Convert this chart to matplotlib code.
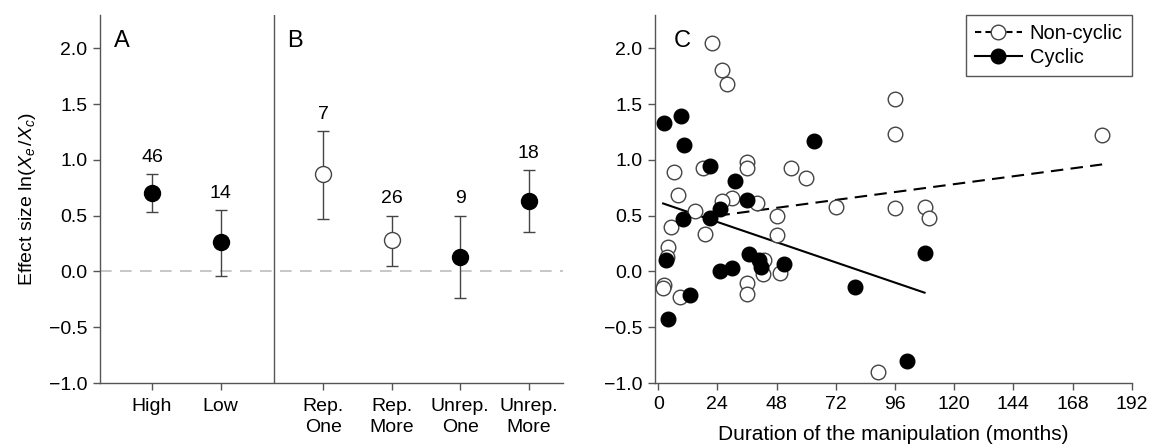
#!/usr/bin/env python3
"""
Effect size plots: group means with 95% CI (panels A, B) and
effect size vs. duration of the manipulation (panel C).
"""

import matplotlib
matplotlib.use("Agg")
import matplotlib.pyplot as plt
from matplotlib.lines import Line2D

plt.rcParams['font.family'] = ['Liberation Sans', 'DejaVu Sans']
plt.rcParams['mathtext.fontset'] = 'custom'
plt.rcParams['mathtext.rm'] = 'Liberation Sans'
plt.rcParams['mathtext.it'] = 'Liberation Sans:italic'

# Panel A: productivity groups
a_labels = ['High', 'Low']
a_mean = [0.70, 0.26]
a_low = [0.53, -0.04]
a_high = [0.87, 0.55]
a_n = [46, 14]
a_open = [False, False]

# Panel B: design groups
b_labels = ['Rep.\nOne', 'Rep.\nMore', 'Unrep.\nOne', 'Unrep.\nMore']
b_mean = [0.87, 0.28, 0.13, 0.63]
b_low = [0.47, 0.05, -0.24, 0.35]
b_high = [1.26, 0.50, 0.50, 0.91]
b_n = [7, 26, 9, 18]
b_open = [True, True, False, False]

# Panel C: non-cyclic studies (months, effect size)
nc_months = [22, 26, 28, 96, 96, 36, 36, 18, 54, 60, 30, 26, 15, 40, 72, 96,
             108, 110, 48, 19, 48, 43, 42.5, 49.5, 36, 36, 89, 180, 6.3, 8.2,
             5, 4, 3.5, 2.2, 2.0, 8.8]
nc_effect = [2.05, 1.81, 1.68, 1.55, 1.23, 0.98, 0.93, 0.93, 0.93, 0.84, 0.66,
             0.63, 0.54, 0.61, 0.58, 0.57, 0.58, 0.48, 0.50, 0.34, 0.33, 0.10,
             -0.02, -0.01, -0.10, -0.20, -0.90, 1.22, 0.89, 0.69, 0.40, 0.22,
             0.13, -0.12, -0.15, -0.23]

# Panel C: cyclic studies
cy_months = [2.2, 9.3, 10.3, 10, 3, 13, 4, 21, 63, 31, 36, 25, 21, 37, 41,
             41.5, 25, 30, 51, 80, 108, 101]
cy_effect = [1.33, 1.39, 1.13, 0.47, 0.10, -0.21, -0.43, 0.95, 1.17, 0.81,
             0.64, 0.56, 0.48, 0.16, 0.10, 0.04, 0.00, 0.03, 0.07, -0.14,
             0.17, -0.80]

# Fitted regression lines (start/end points)
nc_fit_x = [24, 180]
nc_fit_y = [0.50, 0.96]
cy_fit_x = [2, 108]
cy_fit_y = [0.61, -0.19]

y_ticks = [-1.0, -0.5, 0.0, 0.5, 1.0, 1.5, 2.0]
c_x_ticks = [0, 24, 48, 72, 96, 120, 144, 168, 192]

SPINE = '#555555'
FS = 14


def style_axes(ax):
    for side in ['top', 'right']:
        ax.spines[side].set_visible(False)
    for side in ['left', 'bottom']:
        ax.spines[side].set_color(SPINE)
        ax.spines[side].set_linewidth(1.0)
    ax.tick_params(direction='out', length=5, width=1.0, color=SPINE,
                   labelsize=FS, pad=4)


def fmt_ticks(values):
    return ['\u2212' + f'{abs(v):.1f}' if v < 0 else f'{v:.1f}' for v in values]


fig = plt.figure(figsize=(11.51, 4.48), dpi=100)
ax_ab = fig.add_axes([100 / 1151, 1 - 383 / 448, 463 / 1151, 368 / 448])
ax_c = fig.add_axes([655 / 1151, 1 - 383 / 448, 476.7 / 1151, 368 / 448])

# ---- Panels A and B share one axes ----
pos_a = [0, 1]
pos_b = [2.5, 3.5, 4.5, 5.5]
positions = pos_a + pos_b
means = a_mean + b_mean
lows = a_low + b_low
highs = a_high + b_high
counts = a_n + b_n
opens = a_open + b_open

ax_ab.axhline(0, color='#bdbdbd', lw=1.2, dashes=(7, 5), zorder=1)
ax_ab.axvline(1.78, color=SPINE, lw=1.0, zorder=1)

for x, m, lo, hi, n, is_open in zip(positions, means, lows, highs, counts, opens):
    ax_ab.errorbar([x], [m], yerr=[[m - lo], [hi - m]], fmt='none',
                   ecolor='#444444', elinewidth=1.0, capsize=4, capthick=1.0,
                   zorder=2)
    ax_ab.plot([x], [m], 'o', ms=11.5,
               mfc='white' if is_open else 'black',
               mec='#444444' if is_open else 'black', mew=1.0, zorder=3)
    ax_ab.annotate(str(n), (x, hi), xytext=(0, 6), textcoords='offset points',
                   ha='center', va='bottom', fontsize=FS)

ax_ab.set_xlim(-0.76, 6.0)
ax_ab.set_ylim(-1.0, 2.3)
ax_ab.set_yticks(y_ticks)
ax_ab.set_yticklabels(fmt_ticks(y_ticks))
ax_ab.set_xticks(positions)
ax_ab.set_xticklabels(a_labels + b_labels, linespacing=1.3)
style_axes(ax_ab)
ax_ab.tick_params(axis='x', pad=6)
ax_ab.set_ylabel(r'Effect size ln($X_e\,/X_c$)', fontsize=14, labelpad=8)
ax_ab.text(0.03, 0.96, 'A', transform=ax_ab.transAxes, fontsize=17,
           ha='left', va='top')
ax_ab.text(0.405, 0.96, 'B', transform=ax_ab.transAxes, fontsize=17,
           ha='left', va='top')

# ---- Panel C ----
ax_c.plot(nc_fit_x, nc_fit_y, color='black', lw=1.5, dashes=(6, 3.5), zorder=2)
ax_c.plot(cy_fit_x, cy_fit_y, color='black', lw=1.5, zorder=2)
ax_c.plot(nc_months, nc_effect, 'o', ms=10.5, mfc='white', mec='#444444',
          mew=1.0, ls='none', zorder=3)
ax_c.plot(cy_months, cy_effect, 'o', ms=10.5, mfc='black', mec='black',
          mew=1.0, ls='none', zorder=4)

ax_c.set_xlim(-1.3, 192)
ax_c.set_ylim(-1.0, 2.3)
ax_c.set_xticks(c_x_ticks)
ax_c.set_yticks(y_ticks)
ax_c.set_yticklabels(fmt_ticks(y_ticks))
style_axes(ax_c)
ax_c.set_xlabel('Duration of the manipulation (months)', fontsize=15,
                labelpad=9)
ax_c.text(0.04, 0.96, 'C', transform=ax_c.transAxes, fontsize=17,
          ha='left', va='top')

handles = [
    Line2D([], [], color='black', lw=1.5, dashes=(3, 2), marker='o', ms=10.5,
           mfc='white', mec='#444444', mew=1.0),
    Line2D([], [], color='black', lw=1.5, marker='o', ms=10.5,
           mfc='black', mec='black'),
]
leg = ax_c.legend(handles, ['Non-cyclic', 'Cyclic'], loc='upper right',
                  bbox_to_anchor=(1.0, 1.0), borderaxespad=0, fontsize=14.5,
                  handlelength=2.3, handletextpad=0.4, labelspacing=0.25,
                  borderpad=0.45, fancybox=False, framealpha=1)
leg.get_frame().set_edgecolor('#555555')
leg.get_frame().set_linewidth(1.0)

fig.savefig('out.png', dpi=100)
